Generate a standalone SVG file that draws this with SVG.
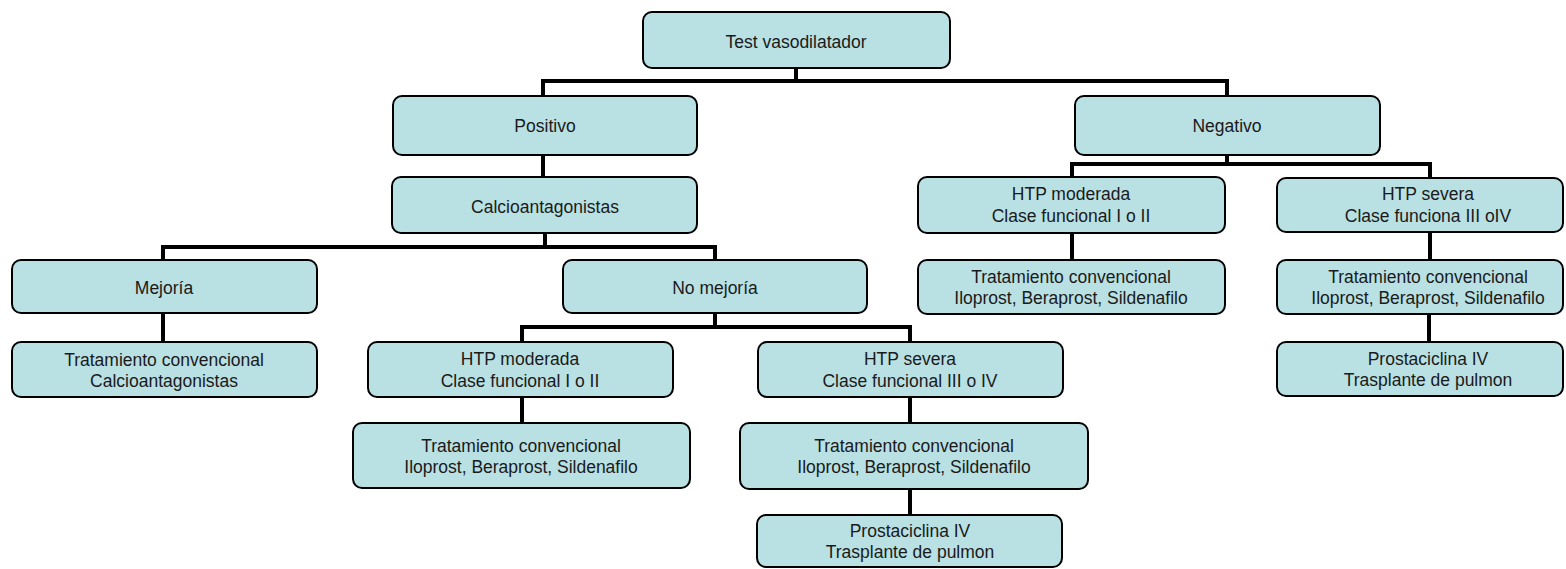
<svg xmlns="http://www.w3.org/2000/svg" width="1566" height="569" viewBox="0 0 1566 569">
<style>
.b{fill:#B9E0E3;stroke:#000;stroke-width:2}
.t{font-family:"Liberation Sans",Arial,sans-serif;font-size:17.5px;fill:#1a1a1a;text-anchor:middle}
.c{fill:none;stroke:#000;stroke-width:4;stroke-linejoin:miter;stroke-linecap:square}
</style>
<rect width="1566" height="569" fill="#fff"/>
<g id="connectors">
<path class="c" d="M796 68V81M543 81H1227M543 81V96M1227 81V96"/>
<path class="c" d="M543 155V177M545 233V247M163 247H715M163 247V260M715 247V260"/>
<path class="c" d="M163 313V342"/>
<path class="c" d="M715 313V327M522 327H910M522 327V342M910 327V342"/>
<path class="c" d="M522 397V423M910 397V423M910 489V515"/>
<path class="c" d="M1227 155V164M1072 164H1430M1072 164V177M1430 164V178"/>
<path class="c" d="M1072 233V260M1430 232V260M1429 314V342"/>
</g>
<g id="n1"><rect class="b" x="643" y="12" width="307" height="56" rx="9"/><text class="t" x="796" y="48">Test vasodilatador</text></g>
<g id="n2"><rect class="b" x="393" y="96" width="304" height="59" rx="9"/><text class="t" x="545" y="132">Positivo</text></g>
<g id="n3"><rect class="b" x="1075" y="96" width="305" height="59" rx="9"/><text class="t" x="1227" y="132">Negativo</text></g>
<g id="n4"><rect class="b" x="392" y="177" width="305" height="56" rx="9"/><text class="t" x="545" y="213">Calcioantagonistas</text></g>
<g id="n5"><rect class="b" x="12" y="260" width="305" height="53" rx="9"/><text class="t" x="164" y="294">Mejoría</text></g>
<g id="n6"><rect class="b" x="563" y="260" width="304" height="53" rx="9"/><text class="t" x="715" y="294">No mejoría</text></g>
<g id="n7"><rect class="b" x="12" y="342" width="305" height="55" rx="9"/><text class="t" x="164" y="366">Tratamiento convencional</text><text class="t" x="164" y="387">Calcioantagonistas</text></g>
<g id="n8"><rect class="b" x="368" y="342" width="305" height="55" rx="9"/><text class="t" x="520" y="365">HTP moderada</text><text class="t" x="520" y="387">Clase funcional I o II</text></g>
<g id="n9"><rect class="b" x="758" y="342" width="305" height="55" rx="9"/><text class="t" x="910" y="365">HTP severa</text><text class="t" x="910" y="387">Clase funcional III o IV</text></g>
<g id="n10"><rect class="b" x="353" y="423" width="337" height="65" rx="9"/><text class="t" x="521" y="452">Tratamiento convencional</text><text class="t" x="521" y="473">Iloprost, Beraprost, Sildenafilo</text></g>
<g id="n11"><rect class="b" x="740" y="423" width="348" height="66" rx="9"/><text class="t" x="914" y="452">Tratamiento convencional</text><text class="t" x="914" y="473">Iloprost, Beraprost, Sildenafilo</text></g>
<g id="n12"><rect class="b" x="757" y="515" width="305" height="52" rx="9"/><text class="t" x="910" y="537">Prostaciclina IV</text><text class="t" x="910" y="558">Trasplante de pulmon</text></g>
<g id="n13"><rect class="b" x="918" y="177" width="307" height="56" rx="9"/><text class="t" x="1071" y="200">HTP moderada</text><text class="t" x="1071" y="222">Clase funcional I o II</text></g>
<g id="n14"><rect class="b" x="918" y="260" width="307" height="54" rx="9"/><text class="t" x="1071" y="283">Tratamiento convencional</text><text class="t" x="1071" y="304">Iloprost, Beraprost, Sildenafilo</text></g>
<g id="n15"><rect class="b" x="1277" y="178" width="286" height="54" rx="9"/><text class="t" x="1428" y="200">HTP severa</text><text class="t" x="1428" y="222">Clase funciona III oIV</text></g>
<g id="n16"><rect class="b" x="1277" y="260" width="286" height="54" rx="9"/><text class="t" x="1428" y="283">Tratamiento convencional</text><text class="t" x="1428" y="304">Iloprost, Beraprost, Sildenafilo</text></g>
<g id="n17"><rect class="b" x="1277" y="342" width="286" height="54" rx="9"/><text class="t" x="1428" y="365">Prostaciclina IV</text><text class="t" x="1428" y="386">Trasplante de pulmon</text></g>
</svg>
